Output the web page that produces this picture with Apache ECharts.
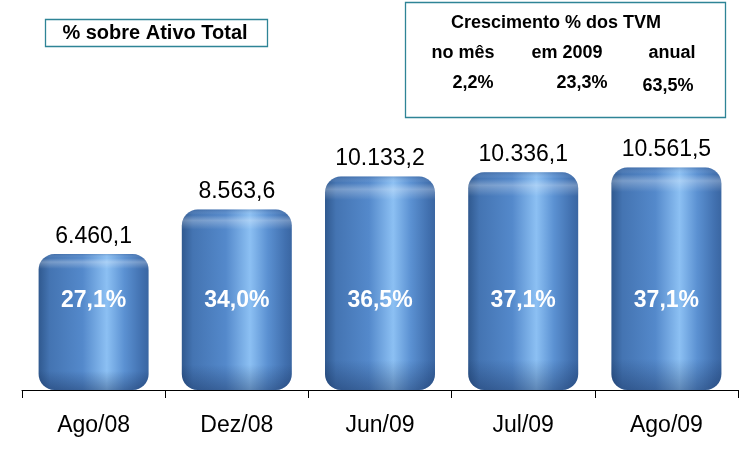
<!DOCTYPE html>
<html>
<head>
<meta charset="utf-8">
<script src="https://cdn.jsdelivr.net/npm/echarts@6/dist/echarts.min.js"></script>
<style>
html,body{margin:0;padding:0;background:#fff;}
#chart{width:742px;height:470px;}
</style>
</head>
<body>
<div id="chart"></div>
<script>
const categories = ['Ago/08', 'Dez/08', 'Jun/09', 'Jul/09', 'Ago/09'];
const values = [6460.1, 8563.6, 10133.2, 10336.1, 10561.5];
const shares = [27.1, 34.0, 36.5, 37.1, 37.1];
const boxTitle = '% sobre Ativo Total';
const growthTitle = 'Crescimento % dos TVM';
const growthHeaders = ['no mês', 'em 2009', 'anual'];
const growthValues = ['2,2%', '23,3%', '63,5%'];

const FONT = '"Liberation Sans", Arial, sans-serif';

function fmtBR(v, d) {
  const parts = v.toFixed(d).split('.');
  const intPart = parts[0].replace(/\B(?=(\d{3})+(?!\d))/g, '.');
  return d > 0 ? intPart + ',' + parts[1] : intPart;
}

const chart = echarts.init(document.getElementById('chart'));

const barGradient = new echarts.graphic.LinearGradient(0, 0, 1, 0, [
  {offset: 0, color: '#30598f'},
  {offset: 0.1, color: '#4474b2'},
  {offset: 0.4, color: '#5489cb'},
  {offset: 0.62, color: '#8cc0f3'},
  {offset: 0.78, color: '#5b91d2'},
  {offset: 0.94, color: '#4170af'},
  {offset: 1, color: '#3a66a2'}
]);

const shadeGradient = new echarts.graphic.LinearGradient(0, 0, 0, 1, [
  {offset: 0, color: 'rgba(40,70,120,0.25)'},
  {offset: 0.03, color: 'rgba(255,255,255,0.0)'},
  {offset: 0.06, color: 'rgba(255,255,255,0.28)'},
  {offset: 0.11, color: 'rgba(255,255,255,0.0)'},
  {offset: 0.86, color: 'rgba(10,30,70,0.0)'},
  {offset: 1, color: 'rgba(10,30,70,0.35)'}
]);

const option = {
  backgroundColor: '#ffffff',
  animation: false,
  grid: {left: 22, right: 4, top: 95, bottom: 80},
  xAxis: {
    type: 'category',
    data: categories,
    boundaryGap: true,
    axisLine: {lineStyle: {color: '#000', width: 1}},
    axisTick: {show: true, length: 8, lineStyle: {color: '#000'}},
    axisLabel: {color: '#000', fontSize: 23, fontFamily: FONT, margin: 24}
  },
  yAxis: {
    type: 'value',
    min: 0,
    max: 14000,
    show: false,
    splitLine: {show: false}
  },
  series: [
    {
      type: 'bar',
      data: values,
      barWidth: 110,
      itemStyle: {color: barGradient, borderRadius: 16},
      label: {
        show: true,
        position: 'top',
        distance: 6,
        color: '#000',
        fontSize: 23,
        fontFamily: FONT,
        formatter: p => fmtBR(p.value, 1)
      },
      z: 2
    },
    {
      type: 'bar',
      data: values,
      barWidth: 110,
      barGap: '-100%',
      silent: true,
      itemStyle: {color: shadeGradient, borderRadius: 16},
      label: {
        show: true,
        position: 'insideBottom',
        distance: 78,
        color: '#fff',
        fontSize: 23,
        fontWeight: 'bold',
        fontFamily: FONT,
        formatter: p => fmtBR(shares[p.dataIndex], 1) + '%'
      },
      z: 3
    }
  ],
  graphic: [
    {
      type: 'rect',
      shape: {x: 45.5, y: 19.5, width: 222, height: 27},
      style: {fill: '#fff', stroke: '#2e8496', lineWidth: 1.3}
    },
    {
      type: 'text',
      x: 155, y: 33,
      style: {text: boxTitle, fill: '#000', font: 'bold 20px ' + FONT, align: 'center', verticalAlign: 'middle'}
    },
    {
      type: 'rect',
      shape: {x: 405.5, y: 2.5, width: 320, height: 115},
      style: {fill: '#fff', stroke: '#2e8496', lineWidth: 1.3}
    },
    {
      type: 'text',
      x: 556, y: 23,
      style: {text: growthTitle, fill: '#000', font: 'bold 18px ' + FONT, align: 'center', verticalAlign: 'middle'}
    },
    {
      type: 'text', x: 463, y: 53,
      style: {text: growthHeaders[0], fill: '#000', font: 'bold 18px ' + FONT, align: 'center', verticalAlign: 'middle'}
    },
    {
      type: 'text', x: 567, y: 53,
      style: {text: growthHeaders[1], fill: '#000', font: 'bold 18px ' + FONT, align: 'center', verticalAlign: 'middle'}
    },
    {
      type: 'text', x: 672, y: 53,
      style: {text: growthHeaders[2], fill: '#000', font: 'bold 18px ' + FONT, align: 'center', verticalAlign: 'middle'}
    },
    {
      type: 'text', x: 473, y: 83,
      style: {text: growthValues[0], fill: '#000', font: 'bold 18px ' + FONT, align: 'center', verticalAlign: 'middle'}
    },
    {
      type: 'text', x: 582, y: 83,
      style: {text: growthValues[1], fill: '#000', font: 'bold 18px ' + FONT, align: 'center', verticalAlign: 'middle'}
    },
    {
      type: 'text', x: 668, y: 86,
      style: {text: growthValues[2], fill: '#000', font: 'bold 18px ' + FONT, align: 'center', verticalAlign: 'middle'}
    }
  ]
};

chart.setOption(option);
</script>
</body>
</html>
